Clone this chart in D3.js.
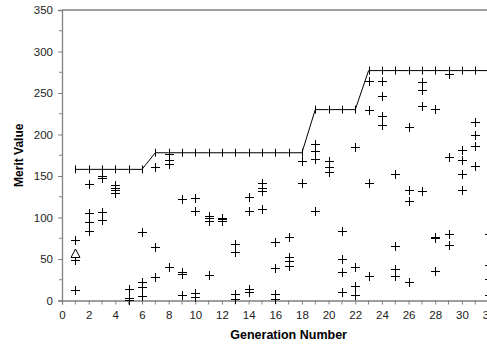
<!DOCTYPE html>
<html>
<head>
<meta charset="utf-8">
<script src="https://cdn.jsdelivr.net/npm/d3@7"></script>
<style>
  html, body { margin: 0; padding: 0; background: #fff; }
  svg { display: block; font-family: Arial, "Liberation Sans", sans-serif; }
</style>
</head>
<body>
<svg id="chart" width="487" height="353"></svg>
<script>
// Generations of the run
const generations = [1,2,3,4,5,6,7,8,9,10,11,12,13,14,15,16,17,18,19,20,21,22,23,24,25,26,27,28,29,30,31,32];

// Merit values of the individuals in each generation's population
const populationMerit = [
  [73, 49, 13],
  [140, 105, 94, 84],
  [150, 148, 107, 97],
  [139, 136, 133, 130],
  [14, 3, 1],
  [82, 22, 16, 5],
  [161, 65, 28],
  [177, 169, 165, 40],
  [122, 34, 32, 7],
  [123, 108, 9, 4],
  [102, 99, 96, 31],
  [100, 98, 96],
  [68, 59, 8, 2],
  [125, 108, 14, 10],
  [141, 136, 132, 110],
  [71, 39, 8, 2],
  [76, 52, 48, 41],
  [168, 141],
  [189, 180, 170, 108],
  [168, 161, 155],
  [84, 50, 34, 10],
  [185, 40, 17, 7],
  [265, 230, 142, 30],
  [264, 246, 222, 212],
  [153, 66, 38, 29],
  [209, 133, 120, 22],
  [263, 254, 234, 132],
  [231, 77, 75, 36],
  [273, 173, 80, 67],
  [181, 169, 153, 133],
  [215, 200, 186, 162],
  [80, 43, 26, 7]
];

// Best merit found so far, per generation
const bestMerit = [158,158,158,158,158,158,178,178,178,178,178,178,178,178,178,178,178,178,
                   230,230,230,230,277,277,277,277,277,277,277,277,277,277];

// Seed individual
const seedGeneration = [1];
const seedMerit = [57];

// Axis ticks
const xTickLabels = [0,2,4,6,8,10,12,14,16,18,20,22,24,26,28,30,32];
const xMinorTicks = d3.range(1, 34, 2);
const yTickLabels = [0,50,100,150,200,250,300,350];
const yMinorTicks = [25,75,125,175,225,275,325];

const svg = d3.select("#chart");
const axisColor = "#808080";

const x = d3.scaleLinear().domain([0, 34]).range([62, 62 + 34 * 13.33]);
const y = d3.scaleLinear().domain([0, 350]).range([300.5, 10]);

const plotLeft = x(0), plotRight = x(34), plotTop = y(350), plotBottom = y(0);

// Top edge of the plot area
svg.append("line")
  .attr("x1", plotLeft).attr("x2", plotRight)
  .attr("y1", plotTop).attr("y2", plotTop)
  .attr("stroke", axisColor).attr("stroke-width", 1.3);

// Y axis
const yAxis = d3.axisLeft(y).tickValues(yTickLabels).tickSize(4).tickPadding(5);
const gy = svg.append("g").attr("transform", `translate(${plotLeft},0)`).call(yAxis);
gy.select(".domain").attr("stroke", axisColor).attr("stroke-width", 1.3);
gy.selectAll(".tick line").attr("stroke", axisColor);
gy.selectAll(".tick text").attr("fill", "#222").style("font-size", "11.5px")
  .style("font-family", "Arial, 'Liberation Sans', sans-serif");
gy.selectAll(".minor").data(yMinorTicks).enter().append("line")
  .attr("x1", -3).attr("x2", 0)
  .attr("y1", d => y(d)).attr("y2", d => y(d))
  .attr("stroke", axisColor);

// X axis
const xAxis = d3.axisBottom(x).tickValues(xTickLabels).tickSize(4).tickPadding(6);
const gx = svg.append("g").attr("transform", `translate(0,${plotBottom})`).call(xAxis);
gx.select(".domain").attr("stroke", axisColor).attr("stroke-width", 1.3);
gx.selectAll(".tick line").attr("stroke", axisColor);
gx.selectAll(".tick text").attr("fill", "#222").style("font-size", "11.5px")
  .style("font-family", "Arial, 'Liberation Sans', sans-serif");
gx.selectAll(".minor").data(xMinorTicks).enter().append("line")
  .attr("x1", d => x(d)).attr("x2", d => x(d))
  .attr("y1", 0).attr("y2", 4)
  .attr("stroke", axisColor);

// Axis titles
svg.append("text")
  .attr("transform", `translate(23,${(plotTop + plotBottom) / 2}) rotate(-90)`)
  .attr("text-anchor", "middle")
  .style("font-size", "12px").style("font-weight", "bold").attr("fill", "#000")
  .text("Merit Value");

svg.append("text")
  .attr("x", (plotLeft + plotRight) / 2).attr("y", 338.5)
  .attr("text-anchor", "middle")
  .style("font-size", "12.5px").style("font-weight", "bold").attr("fill", "#000")
  .text("Generation Number");

// Plus-shaped marker path centred on (0,0)
const plus = (h) => `M${-h},0H${h}M0,${-h}V${h}`;

// Population individuals
const popPoints = [];
generations.forEach((g, i) => populationMerit[i].forEach(v => popPoints.push({ g, v })));
svg.append("g").selectAll("path").data(popPoints).enter().append("path")
  .attr("transform", d => `translate(${Math.round(x(d.g)) + 0.5},${Math.round(y(d.v)) + 0.5})`)
  .attr("d", plus(4.5))
  .attr("stroke", "#000").attr("stroke-width", 1).attr("fill", "none");

// Best-so-far line with markers
const bestData = generations.map((g, i) => ({ g, v: bestMerit[i] }));
svg.append("path")
  .datum(bestData)
  .attr("d", d3.line().x(d => x(d.g)).y(d => y(d.v)))
  .attr("fill", "none").attr("stroke", "#000").attr("stroke-width", 1);
svg.append("g").selectAll("path").data(bestData).enter().append("path")
  .attr("transform", d => `translate(${Math.round(x(d.g)) + 0.5},${y(d.v)})`)
  .attr("d", `M0,-4V4`)
  .attr("stroke", "#000").attr("stroke-width", 1).attr("fill", "none");

// Seed individual (triangle)
svg.append("g").selectAll("path").data(seedGeneration.map((g, i) => ({ g, v: seedMerit[i] })))
  .enter().append("path")
  .attr("transform", d => `translate(${Math.round(x(d.g)) + 0.5},${Math.round(y(d.v)) + 0.5})`)
  .attr("d", "M0,-4.5L4.5,4L-4.5,4Z")
  .attr("fill", "#fff").attr("stroke", "#000").attr("stroke-width", 1);
</script>
</body>
</html>
